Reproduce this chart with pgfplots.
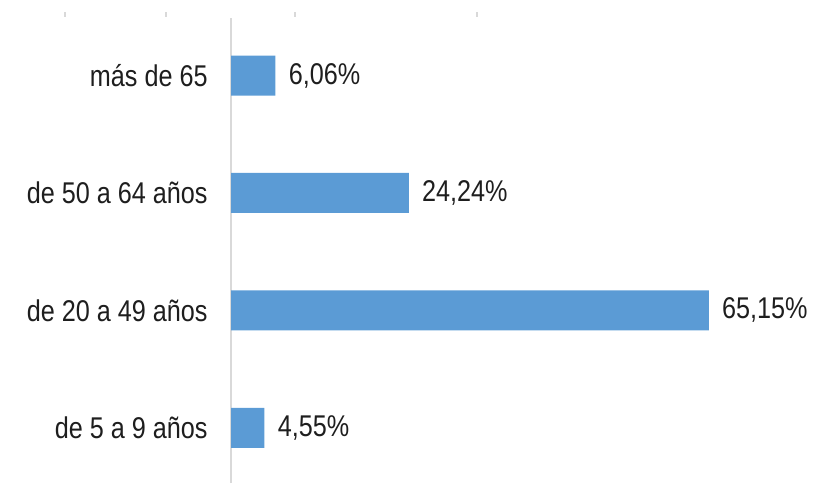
\documentclass[border=0pt]{standalone}
\usepackage{pgfplots}
\pgfplotsset{compat=1.18}
\usepackage{fontspec}
\setmainfont[FakeStretch=0.84]{Liberation Sans}
\definecolor{barblue}{HTML}{5B9BD5}
\definecolor{axgray}{HTML}{D9D9D9}
\definecolor{txt}{HTML}{1E1E1E}
\begin{document}
\begin{tikzpicture}
\useasboundingbox (0,0) rectangle (407pt,241.5pt);
\foreach \xx in {32.5,83,147.5,238.5}{
  \draw[axgray, line width=0.6pt] (\xx pt,233pt) -- (\xx pt,235.5pt);
}
\begin{axis}[
  at={(115.5pt,0pt)}, anchor=south west,
  scale only axis,
  width=275pt, height=232.5pt,
  xmin=0, xmax=75,
  ymin=0.53, ymax=4.49,
  xbar, bar width=20pt,
  axis x line=none,
  axis y line*=left,
  y axis line style={axgray, line width=0.8pt, -},
  ytick={1,2,3,4},
  yticklabels={de 5 a 9 años, de 20 a 49 años, de 50 a 64 años, más de 65},
  major tick length=0pt,
  yticklabel style={anchor=east, inner sep=0pt, xshift=-11.5pt, font=\fontsize{15pt}{17pt}\selectfont, text=txt},
  point meta=explicit symbolic,
  nodes near coords,
  nodes near coords style={anchor=west, inner sep=0pt, xshift=6.5pt, font=\fontsize{15pt}{17pt}\selectfont, text=txt},
  clip=false,
]
\addplot[fill=barblue, draw=none] coordinates {
  (4.55,1) [4,55\%]
  (65.15,2) [65,15\%]
  (24.24,3) [24,24\%]
  (6.06,4) [6,06\%]
};
\end{axis}
\end{tikzpicture}
\end{document}
